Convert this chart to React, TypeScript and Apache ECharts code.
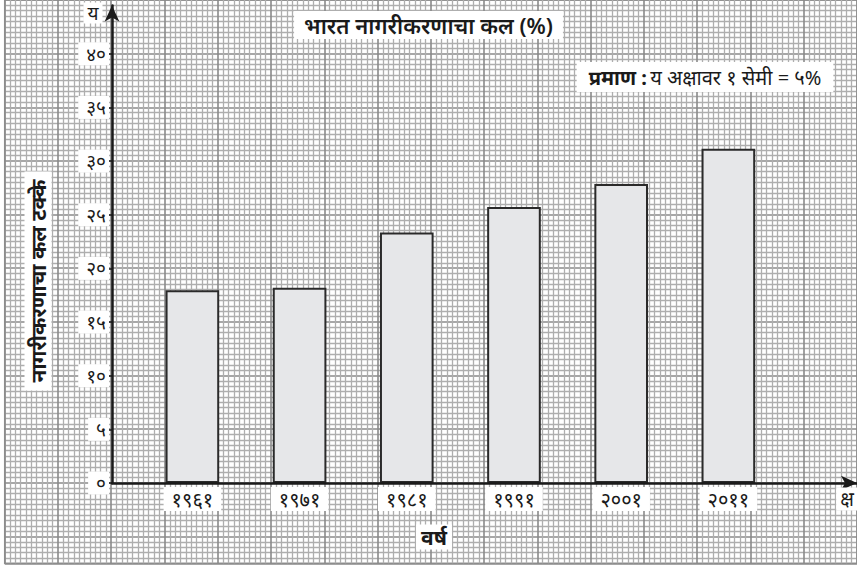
import React, { useEffect, useRef } from "react";
import * as echarts from "echarts";

const years = ["१९६१", "१९७१", "१९८१", "१९९१", "२००१", "२०११"];
const urbanShare = [17.97, 18.2, 23.34, 25.72, 27.86, 31.16];
const yTickValues = [0, 5, 10, 15, 20, 25, 30, 35, 40];
const yTickLabels = ["०", "५", "१०", "१५", "२०", "२५", "३०", "३५", "४०"];
const titleText = "भारत नागरीकरणाचा कल (%)";
const yAxisTitle = "नागरीकरणाचा कल टक्के";
const xAxisTitle = "वर्ष";
const scaleLabel = "प्रमाण :";
const scaleText = "य अक्षावर १ सेमी = ५%";

const CM = 53.65;
const FONT = "'Noto Sans', 'Noto Sans Devanagari', 'Lohit Devanagari', sans-serif";

export default function App() {
  const ref = useRef<HTMLDivElement>(null);
  useEffect(() => {
    const chart = echarts.init(ref.current!, null, { renderer: "svg" });
    const xPos = years.map((_, i) => 2 * i + 1.5);
    const option: any = {
      animation: false,
      backgroundColor: "#ffffff",
      textStyle: { fontFamily: FONT },
      title: {
        text: titleText,
        left: "center",
        top: 11,
        padding: [3, 10, 3, 10],
        backgroundColor: "#ffffff",
        textStyle: { fontFamily: FONT, fontSize: 22, fontWeight: 600, color: "#1a1a1a" },
      },
      grid: [
        { left: 112, top: 483 - 44.5 * (CM / 5), width: 13.9 * CM, height: 44.5 * (CM / 5) },
        {
          left: 4.7,
          top: 0,
          width: 16 * CM,
          height: 10.5 * CM,
          show: true,
          backgroundColor: "#ffffff",
          borderColor: "#939393",
          borderWidth: 1.5,
          z: -1,
        },
      ],
      xAxis: [
        {
          type: "value",
          gridIndex: 0,
          min: 0,
          max: 13.9,
          z: 5,
          splitLine: { show: false },
          axisLine: {
            show: true,
            lineStyle: { color: "#1a1a1a", width: 2.5 },
            symbol: ["none", "arrow"],
            symbolSize: [11, 16],
          },
          axisTick: { show: false },
          axisLabel: {
            customValues: xPos,
            formatter: (v: number) => {
              const i = xPos.indexOf(v);
              return i >= 0 ? years[i] : "";
            },
            backgroundColor: "#ffffff",
            padding: [2, 8, 2, 8],
            margin: 4,
            fontSize: 20,
            color: "#1a1a1a",
            fontFamily: FONT,
          },
        },
        {
          type: "value",
          gridIndex: 1,
          min: 0,
          max: 16,
          interval: 1,
          z: -1,
          axisLine: { show: false },
          axisTick: { show: false },
          axisLabel: { show: false },
          splitLine: { show: true, lineStyle: { color: "#8a8a8a", width: 1.6 } },
          minorTick: { show: false, splitNumber: 10 },
          minorSplitLine: { show: true, lineStyle: { color: "#aeaeae", width: 1.3 } },
        },
      ],
      yAxis: [
        {
          type: "value",
          gridIndex: 0,
          min: 0,
          max: 44.5,
          z: 5,
          splitLine: { show: false },
          axisLine: {
            show: true,
            lineStyle: { color: "#1a1a1a", width: 2.5 },
            symbol: ["none", "arrow"],
            symbolSize: [11, 16],
          },
          axisTick: {
            show: true,
            customValues: yTickValues,
            length: 6,
            lineStyle: { color: "#1a1a1a", width: 1.5 },
          },
          axisLabel: {
            customValues: yTickValues,
            formatter: (v: number) => {
              const i = yTickValues.indexOf(v);
              return i >= 0 ? yTickLabels[i] : "";
            },
            backgroundColor: "#ffffff",
            padding: [2, 3, 2, 8],
            margin: 3,
            fontSize: 19,
            color: "#1a1a1a",
            fontFamily: FONT,
          },
        },
        {
          type: "value",
          gridIndex: 1,
          inverse: true,
          min: 0,
          max: 10.5,
          interval: 1,
          z: -1,
          axisLine: { show: false },
          axisTick: { show: false },
          axisLabel: { show: false },
          splitLine: { show: true, lineStyle: { color: "#8a8a8a", width: 1.6 } },
          minorTick: { show: false, splitNumber: 10 },
          minorSplitLine: { show: true, lineStyle: { color: "#aeaeae", width: 1.3 } },
        },
      ],
      series: [
        {
          type: "bar",
          xAxisIndex: 0,
          yAxisIndex: 0,
          barWidth: CM,
          z: 3,
          data: urbanShare.map((v, i) => [xPos[i], v]),
          itemStyle: { color: "#e6e7e9", borderColor: "#2a2a2a", borderWidth: 2 },
        },
      ],
      graphic: [
        {
          type: "text",
          x: 38,
          y: 281,
          rotation: Math.PI / 2,
          z: 10,
          style: {
            text: yAxisTitle,
            align: "center",
            verticalAlign: "middle",
            font: `bold 21px ${FONT}`,
            fill: "#1a1a1a",
            backgroundColor: "#ffffff",
            padding: [3, 8, 3, 8],
          },
        },
        {
          type: "text",
          x: 93,
          y: 13,
          z: 10,
          style: {
            text: "य",
            align: "center",
            verticalAlign: "middle",
            font: `19px ${FONT}`,
            fill: "#1a1a1a",
            backgroundColor: "#ffffff",
            padding: [1, 4, 1, 4],
          },
        },
        {
          type: "text",
          x: 847,
          y: 499,
          z: 10,
          style: {
            text: "क्ष",
            align: "center",
            verticalAlign: "middle",
            font: `19px ${FONT}`,
            fill: "#1a1a1a",
            backgroundColor: "#ffffff",
            padding: [2, 4, 2, 4],
          },
        },
        {
          type: "text",
          x: 434,
          y: 537,
          z: 10,
          style: {
            text: xAxisTitle,
            align: "center",
            verticalAlign: "middle",
            font: `bold 21px ${FONT}`,
            fill: "#1a1a1a",
            backgroundColor: "#ffffff",
            padding: [2, 5, 2, 5],
          },
        },
        {
          type: "text",
          x: 705,
          y: 77,
          z: 10,
          style: {
            text: `{b|${scaleLabel}} {n|${scaleText}}`,
            align: "center",
            verticalAlign: "middle",
            backgroundColor: "#ffffff",
            padding: [5, 12, 5, 12],
            rich: {
              b: { font: `bold 20px ${FONT}`, fill: "#1a1a1a" },
              n: { font: `20px ${FONT}`, fill: "#1a1a1a" },
            },
          },
        },
      ],
    };
    chart.setOption(option);
    return () => chart.dispose();
  }, []);
  return (
    <div
      ref={ref}
      style={{ position: "fixed", left: 0, top: 0, width: 857, height: 567, background: "#fff" }}
    />
  );
}
